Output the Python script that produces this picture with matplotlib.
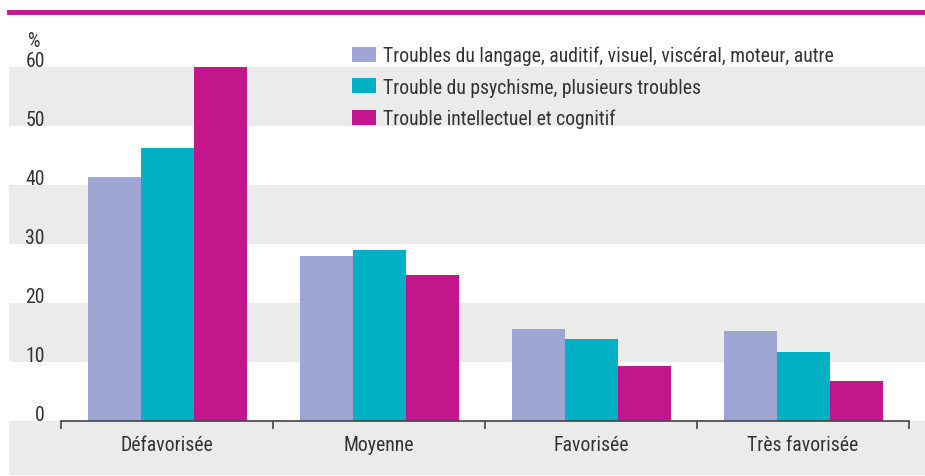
import matplotlib.pyplot as plt
import numpy as np
from matplotlib.patches import Rectangle
from matplotlib.lines import Line2D
import matplotlib.transforms as mtransforms

categories = ['Défavorisée', 'Moyenne', 'Favorisée', 'Très favorisée']
series_names = ['Troubles du langage, auditif, visuel, viscéral, moteur, autre',
                'Trouble du psychisme, plusieurs troubles',
                'Trouble intellectuel et cognitif']
langage = [41.4, 28.0, 15.6, 15.25]
psychisme = [46.2, 29.0, 13.9, 11.7]
intellectuel = [60.0, 24.7, 9.3, 6.8]
y_ticks = [0, 10, 20, 30, 40, 50, 60]

colors = ['#A0A6D3', '#00B0C4', '#C4168C']
text_col = '#333333'
band_col = '#EBEBEB'
fs = 14.2

plt.rcParams['font.family'] = ['Roboto Condensed', 'DejaVu Sans']

W, H = 925, 477
fig = plt.figure(figsize=(W / 100, H / 100), dpi=100)

# bande grise sous l'axe + trait magenta en haut
fig.patches.append(Rectangle((9 / W, 1 / H), 916 / W, 54 / H, transform=fig.transFigure,
                             facecolor=band_col, edgecolor='none', zorder=-1))
fig.lines.append(Line2D([9 / W, 1], [1 - 13 / H, 1 - 13 / H], transform=fig.transFigure,
                        color='#C4168C', lw=3.5))

ax = fig.add_axes([9 / W, 55 / H, 916 / W, 354 / H])
ax.patch.set_alpha(0)
ax.set_ylim(0, 60)
ax.set_xlim(-158 / 212, 3 + 122 / 212)

for lo in (10, 30, 50):
    ax.axhspan(lo, lo + 10, color=band_col, zorder=0, lw=0)

x = np.arange(len(categories))
w = 0.25
for i, vals in enumerate([langage, psychisme, intellectuel]):
    ax.bar(x + (i - 1) * w, vals, w, color=colors[i], label=series_names[i], zorder=2)

for s in ['top', 'right', 'left']:
    ax.spines[s].set_visible(False)
ax.spines['bottom'].set_bounds(-0.5, 3.5)
ax.spines['bottom'].set_color('#444444')
ax.spines['bottom'].set_linewidth(1.2)
ax.set_yticks([])
ax.set_xticks(x)
ax.set_xticklabels(categories, fontsize=fs, color=text_col)
ax.tick_params(axis='x', which='major', length=0, pad=10)
ax.set_xticks(np.arange(-0.5, 4, 1), minor=True)
ax.tick_params(axis='x', which='minor', length=6, width=1.2, color='#444444', direction='out')

trans = mtransforms.blended_transform_factory(ax.transAxes, ax.transData)
for t in y_ticks:
    ax.text(36 / 916, t + 0.25, str(t), transform=trans, ha='right', va='baseline',
            fontsize=fs, color=text_col)
ax.text(19 / 916, 63.5, '%', transform=trans, ha='left', va='baseline',
        fontsize=fs, color=text_col, clip_on=False)

ax.legend(loc='upper left', bbox_to_anchor=(343 / 916, 1 + 21 / 354), frameon=False,
          fontsize=fs, handlelength=1.2, handleheight=0.8, handletextpad=0.35,
          labelspacing=0.62, labelcolor=text_col, borderaxespad=0, borderpad=0)

fig.savefig('out.png', dpi=100)
